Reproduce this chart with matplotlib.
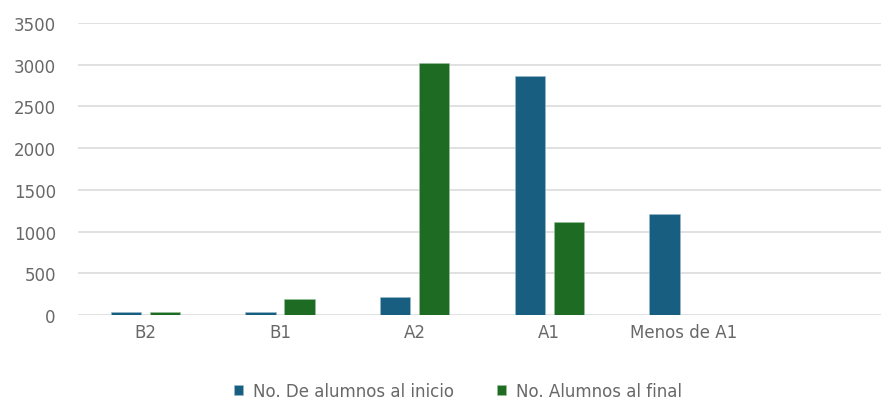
import numpy as np
import matplotlib
matplotlib.use("Agg")
import matplotlib.pyplot as plt

# data
categories = ["B2", "B1", "A2", "A1", "Menos de A1", ""]
inicio = [40, 40, 220, 2870, 1210, 0]
final = [35, 192, 3020, 1115, 0, 0]
series_names = ["No. De alumnos al inicio", "No. Alumnos al final"]
y_ticks = [0, 500, 1000, 1500, 2000, 2500, 3000, 3500]

blue = "#185e80"
green = "#1e6b24"
grey_text = "#686868"

plt.rcParams['font.family'] = ['DejaVu Sans']

fig = plt.figure(figsize=(8.81, 4.02), dpi=100)
ax = fig.add_axes([78 / 881, (402 - 316) / 402, (886 - 78) / 881, 292 / 402])

x = np.arange(len(categories))
w = 0.225
off = 0.145
ax.bar(x - off, inicio, w, color=blue, edgecolor="#9cbccc", linewidth=0.4,
       label=series_names[0], zorder=3)
ax.bar(x + off, final, w, color=green, edgecolor="#9cc49f", linewidth=0.4,
       label=series_names[1], zorder=3)

ax.set_xlim(-0.5, len(categories) - 0.5)
ax.set_ylim(0, 3500)
ax.set_yticks(y_ticks)
ax.set_xticks(x)
ax.set_xticklabels(categories)
ax.yaxis.grid(True, color="#d9d9d9", linewidth=1.1, zorder=0)
for s in ax.spines.values():
    s.set_visible(False)
ax.tick_params(axis="both", length=0, colors=grey_text, labelsize=12)
ax.tick_params(axis="y", pad=16)
ax.tick_params(axis="x", pad=6)

leg = fig.legend(loc="center", bbox_to_anchor=(458 / 881, 1 - 392 / 402), ncol=2,
                 frameon=False, fontsize=12, handlelength=0.55, handleheight=0.55,
                 handletextpad=0.6, columnspacing=2.6)
for t in leg.get_texts():
    t.set_color(grey_text)

fig.savefig("out.png", dpi=100)
